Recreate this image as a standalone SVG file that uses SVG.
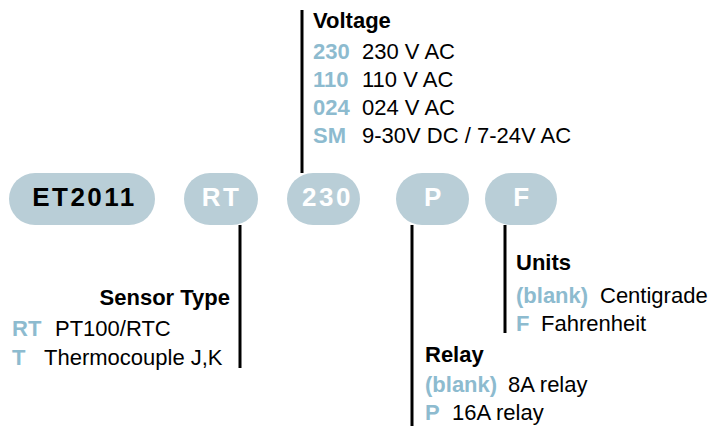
<svg xmlns="http://www.w3.org/2000/svg" width="724" height="426" viewBox="0 0 724 426">
<style>
.pill{fill:#b9ced7}
.pt{font-family:"Liberation Sans",Arial,sans-serif;font-weight:bold;font-size:26px;letter-spacing:2.5px;text-anchor:middle;fill:#fff}
.h{font-family:"Liberation Sans",Arial,sans-serif;font-weight:bold;font-size:22px;fill:#000}
.k{font-family:"Liberation Sans",Arial,sans-serif;font-weight:bold;font-size:22px;fill:#8dbbcf}
.v{font-family:"Liberation Sans",Arial,sans-serif;font-size:22px;fill:#000}
.ln{stroke:#000;stroke-width:3;fill:none}
</style>
<g id="connectors">
<line class="ln" x1="302" y1="10" x2="302" y2="173"/>
<line class="ln" x1="240" y1="225" x2="240" y2="368"/>
<line class="ln" x1="412" y1="225" x2="412" y2="426"/>
<line class="ln" x1="505" y1="225" x2="505" y2="333"/>
</g>
<g id="n-et2011"><rect class="pill" x="9" y="173" width="146" height="52" rx="26"/><text class="pt" x="84.5" y="206" style="fill:#000">ET2011</text></g>
<g id="n-rt"><rect class="pill" x="184" y="173" width="74" height="52" rx="26"/><text class="pt" x="221.5" y="206">RT</text></g>
<g id="n-230"><rect class="pill" x="287" y="173" width="73" height="52" rx="26"/><text class="pt" x="327.5" y="206">230</text></g>
<g id="n-p"><rect class="pill" x="396" y="173" width="73" height="52" rx="26"/><text class="pt" x="434" y="206">P</text></g>
<g id="n-f"><rect class="pill" x="485" y="173" width="72" height="52" rx="26"/><text class="pt" x="522.5" y="206">F</text></g>
<g id="voltage">
<text class="h" x="313" y="28">Voltage</text>
<text class="k" x="313" y="59">230</text><text class="v" x="362" y="59">230 V AC</text>
<text class="k" x="313" y="87">110</text><text class="v" x="362" y="87">110 V AC</text>
<text class="k" x="313" y="115">024</text><text class="v" x="362" y="115">024 V AC</text>
<text class="k" x="313" y="143">SM</text><text class="v" x="362" y="143">9-30V DC / 7-24V AC</text>
</g>
<g id="sensor">
<text class="h" x="230" y="305" text-anchor="end">Sensor Type</text>
<text class="k" x="12" y="336">RT</text><text class="v" x="55" y="336">PT100/RTC</text>
<text class="k" x="12" y="365">T</text><text class="v" x="44" y="365">Thermocouple J,K</text>
</g>
<g id="units">
<text class="h" x="516" y="270">Units</text>
<text class="k" x="516" y="303">(blank)</text><text class="v" x="600" y="303">Centigrade</text>
<text class="k" x="516" y="331">F</text><text class="v" x="541" y="331">Fahrenheit</text>
</g>
<g id="relay">
<text class="h" x="425" y="362">Relay</text>
<text class="k" x="425" y="392">(blank)</text><text class="v" x="508" y="392">8A relay</text>
<text class="k" x="425" y="420">P</text><text class="v" x="452" y="420">16A relay</text>
</g>
</svg>
